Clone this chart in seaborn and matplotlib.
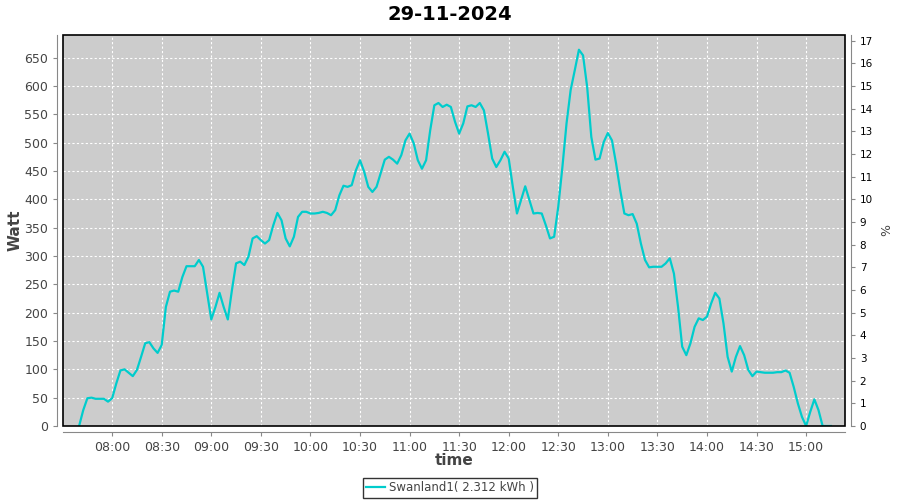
import pandas as pd
import matplotlib
matplotlib.use("Agg")
import matplotlib.pyplot as plt
import matplotlib.dates as mdates
from matplotlib.patches import Rectangle
import seaborn as sns

# readings every 2.5 minutes starting 07:40
start_time = "2024-11-29 07:40"
watt = [
    0, 28, 49, 50, 48, 48, 48, 43, 49, 75, 98, 100, 94, 88, 99, 122,
    146, 148, 137, 129, 143, 210, 237, 239, 237, 263, 282, 282, 282, 293,
    281, 234, 188, 210, 235, 210, 188, 240, 287, 290, 284, 299, 331, 335,
    328, 322, 328, 354, 376, 363, 331, 317, 334, 369, 378, 378, 375, 375,
    376, 378, 376, 372, 381, 407, 424, 422, 425, 451, 469, 449, 422, 413,
    422, 446, 470, 475, 470, 463, 478, 504, 516, 499, 469, 454, 469, 522,
    566, 570, 563, 567, 563, 537, 516, 534, 564, 566, 563, 570, 557, 516,
    472, 457, 469, 484, 472, 422, 375, 399, 423, 399, 375, 376, 375, 354,
    331, 334, 387, 457, 534, 593, 628, 664, 654, 598, 510, 470, 472, 501,
    517, 504, 463, 416, 375, 372, 374, 357, 322, 293, 280, 281, 281, 281,
    287, 296, 269, 210, 140, 125, 146, 175, 190, 187, 193, 216, 235, 225,
    181, 122, 96, 122, 141, 125, 99, 88, 96, 95, 94, 94, 94, 95, 95, 98,
    94, 69, 40, 16, 0, 25, 47, 28, 0, 0, 0,
]
series_name = "Swanland1( 2.312 kWh )"
chart_title = "29-11-2024"
installed_watt = 4000  # right axis shows % of this

times = pd.date_range(start_time, periods=len(watt), freq="150s")
df = pd.DataFrame({"time": times, "watt": watt})

txt = "#444444"
fig = plt.figure(figsize=(9, 5), dpi=100)
ax = fig.add_axes([0.07, 0.148, 0.869, 0.782])
ax.set_facecolor("#cccccc")

sns.lineplot(data=df, x="time", y="watt", ax=ax, color="#00cccc",
             linewidth=1.6, label=series_name, legend=False)

ax.set_xlim(pd.Timestamp("2024-11-29 07:30:15"), pd.Timestamp("2024-11-29 15:23:36"))
ax.set_ylim(0, 690)
ax.set_yticks(range(0, 700, 50))
ax.set_xticks(pd.date_range("2024-11-29 08:00", "2024-11-29 15:00", freq="30min"))
ax.xaxis.set_major_formatter(mdates.DateFormatter("%H:%M"))

ax.grid(True, color="white", linestyle=(0, (2, 2)), linewidth=0.8)
ax.set_axisbelow(True)

for side in ["left", "bottom"]:
    ax.spines[side].set_position(("outward", 4))
    ax.spines[side].set_color("#888888")
for side in ["right", "top"]:
    ax.spines[side].set_visible(False)
ax.add_patch(Rectangle((0, 0), 1, 1, transform=ax.transAxes, fill=False,
                       edgecolor="black", linewidth=1.2, clip_on=False, zorder=5))
ax.tick_params(colors="#888888", labelcolor=txt, labelsize=9, length=3)

ax.set_xlabel("time", fontsize=11, color=txt, fontweight="bold")
ax.xaxis.set_label_coords(0.5, -0.07)
ax.set_ylabel("Watt", fontsize=11, color=txt, fontweight="bold")
ax.yaxis.set_label_coords(-0.052, 0.5)

ax2 = ax.twinx()
ax2.set_ylim(0, 690 / installed_watt * 100)
ax2.set_yticks(range(0, 18))
for side in ["left", "bottom", "top"]:
    ax2.spines[side].set_visible(False)
ax2.spines["right"].set_position(("outward", 4))
ax2.spines["right"].set_color("#888888")
ax2.tick_params(colors="#888888", labelcolor="black", labelsize=7.5, length=3)
ax2.set_ylabel("%", fontsize=9, color=txt)
ax2.yaxis.set_label_coords(1.045, 0.5)

fig.suptitle(chart_title, fontsize=14, fontweight="bold", y=0.99)

handles, labels = ax.get_legend_handles_labels()
leg = fig.legend(handles, labels, loc="lower center", bbox_to_anchor=(0.5, 0.0),
                 fontsize=8.5, frameon=True, fancybox=False, handlelength=1.6,
                 handletextpad=0.3, borderpad=0.3, borderaxespad=0.2)
leg.get_frame().set_edgecolor("black")
leg.get_frame().set_linewidth(1.0)
for t in leg.get_texts():
    t.set_color(txt)

fig.savefig("out.png", dpi=100)
